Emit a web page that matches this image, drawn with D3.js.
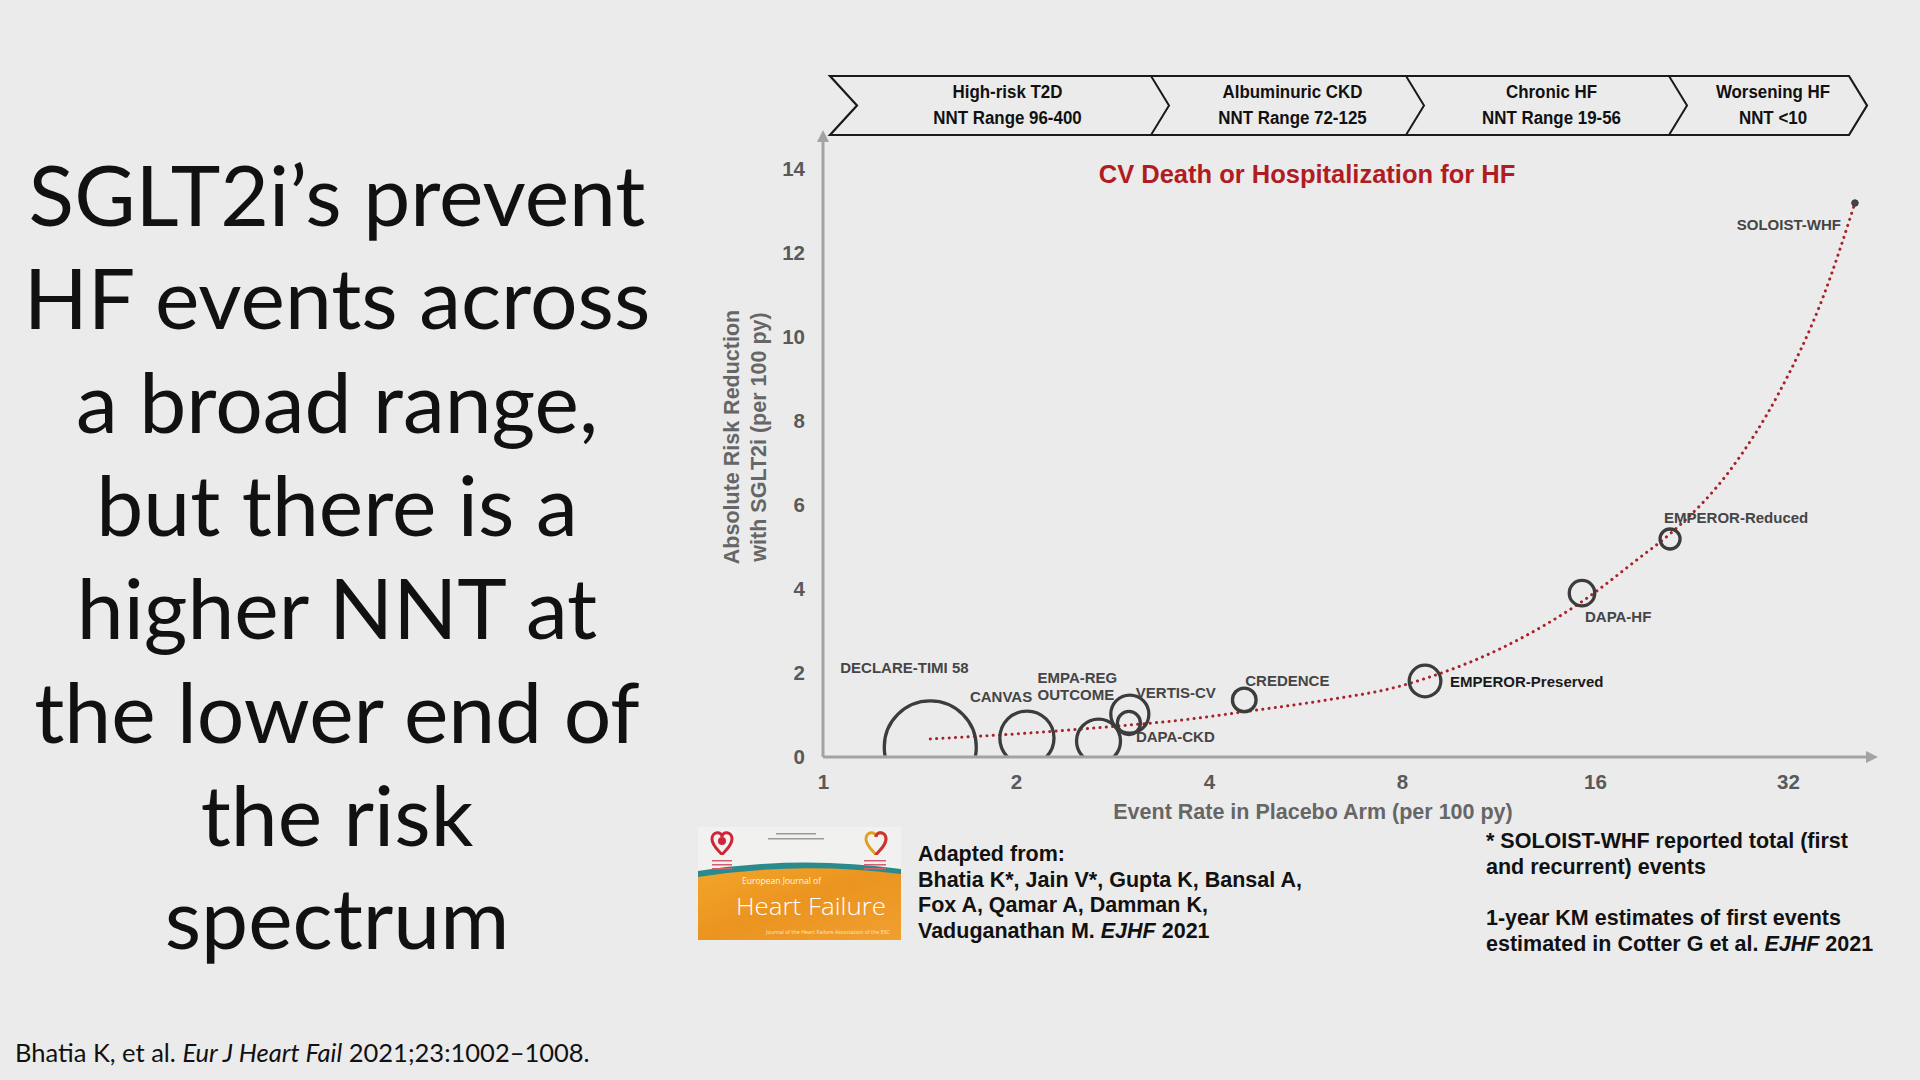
<!DOCTYPE html>
<html><head><meta charset="utf-8">
<script src="https://cdn.jsdelivr.net/npm/d3@7"></script>
<style>
html,body{margin:0;padding:0;background:#ebebeb;}
svg{display:block;}
</style></head>
<body>
<svg id="chart" width="1920" height="1080"></svg>
<script>
// ---------------- DATA ----------------
const trials     = ["DECLARE-TIMI 58","CANVAS","EMPA-REG OUTCOME","VERTIS-CV","DAPA-CKD","CREDENCE","EMPEROR-Preserved","DAPA-HF","EMPEROR-Reduced","SOLOIST-WHF"];
const eventRate  = [1.47, 2.08, 2.69, 3.01, 3.00, 4.54, 8.69, 15.27, 20.95, 40.7];
const arrValues  = [0.24, 0.45, 0.38, 1.02, 0.81, 1.36, 1.81, 3.90, 5.19, 13.19];
const trialSize  = [17160, 10100, 8200, 7100, 4300, 4400, 5900, 4750, 3730, 1222];
const fitX = [1.47, 2, 3, 3.63, 4.55, 5.94, 8, 8.7, 11.5, 15.3, 18.8, 20.9, 26.2, 30.9, 36.4, 40.7];
const fitY = [0.43, 0.55, 0.76, 0.88, 1.08, 1.33, 1.70, 1.87, 2.61, 3.71, 4.75, 5.30, 6.90, 8.64, 11.0, 13.19];
const xTicks = [1, 2, 4, 8, 16, 32];
const yTicks = [0, 2, 4, 6, 8, 10, 12, 14];
const phaseNames = ["High-risk T2D", "Albuminuric CKD", "Chronic HF", "Worsening HF"];
const phaseNNT   = ["NNT Range 96-400", "NNT Range 72-125", "NNT Range 19-56", "NNT <10"];
const titleText  = "CV Death or Hospitalization for HF";
const yLabel     = ["Absolute Risk Reduction", "with SGLT2i (per 100 py)"];
const xLabel     = "Event Rate in Placebo Arm (per 100 py)";
const headline   = ["SGLT2i\u2019s prevent", "HF events across", "a broad range,", "but there is a", "higher NNT at", "the lower end of", "the risk", "spectrum"];

// ---------------- LAYOUT ----------------
const labelLayout = {
  "DECLARE-TIMI 58":   {dx:-90, dy:-74, anchor:"start"},
  "CANVAS":            {dx:-57, dy:-36, anchor:"start"},
  "EMPA-REG OUTCOME":  {dx:-61, dy:-58, anchor:"start", lines:["EMPA-REG","OUTCOME"]},
  "VERTIS-CV":         {dx:6,   dy:-16, anchor:"start"},
  "DAPA-CKD":          {dx:7,   dy:19,  anchor:"start"},
  "CREDENCE":          {dx:1,   dy:-14, anchor:"start"},
  "EMPEROR-Preserved": {dx:25,  dy:6,   anchor:"start", dark:true},
  "DAPA-HF":           {dx:3,   dy:29,  anchor:"start"},
  "EMPEROR-Reduced":   {dx:-6,  dy:-16, anchor:"start"},
  "SOLOIST-WHF":       {dx:-14, dy:27,  anchor:"end"}
};
const chevronEdges = [830, 1151, 1406, 1669, 1849];
const chevronDepth = 18, chevTop = 76, chevBot = 135;

const svg = d3.select("#chart");
svg.append("rect").attr("width",1920).attr("height",1080).attr("fill","#ebebeb");

const x = d3.scaleLog().base(2).domain([1, 32]).range([823, 1788]);
const y = d3.scaleLinear().domain([0, 14]).range([757, 169]);
const r = d3.scaleLinear().domain([0, 17160]).range([0, 46]);

const AX = "#a3a3a3";
const sans = "'Liberation Sans', Arial, sans-serif";

// ---------------- HEADLINE ----------------
svg.append("g").selectAll("text").data(headline).join("text")
  .attr("x", 337).attr("y", (d,i) => 226 + i*103.3)
  .attr("text-anchor","middle")
  .attr("font-family","Lato, 'Open Sans', sans-serif")
  .attr("font-size", 84).attr("fill","#111")
  .text(d => d);

// ---------------- CHEVRONS ----------------
const chev = svg.append("g");
let pts = [];
pts.push([chevronEdges[0], chevTop]);
pts.push([chevronEdges[4], chevTop]);
pts.push([chevronEdges[4] + chevronDepth, (chevTop+chevBot)/2]);
pts.push([chevronEdges[4], chevBot]);
pts.push([chevronEdges[0], chevBot]);
pts.push([chevronEdges[0] + chevronDepth + 9, (chevTop+chevBot)/2]);
chev.append("path").attr("d", d3.line()(pts) + "Z")
  .attr("fill","#ebebeb").attr("stroke","#1a1a1a").attr("stroke-width",2.2).attr("stroke-linejoin","miter");
for (let i = 1; i < 4; i++) {
  chev.append("path")
    .attr("d", d3.line()([[chevronEdges[i], chevTop],[chevronEdges[i]+chevronDepth,(chevTop+chevBot)/2],[chevronEdges[i], chevBot]]))
    .attr("fill","none").attr("stroke","#1a1a1a").attr("stroke-width",2);
}
phaseNames.forEach((p,i) => {
  const cx = (chevronEdges[i] + chevronDepth + chevronEdges[i+1] + chevronDepth)/2 - 4 + (i === 0 ? 3 : 0);
  [p, phaseNNT[i]].forEach((t,k) => {
    chev.append("text").attr("transform",`translate(${cx},${98 + k*26}) scale(0.89,1)`)
      .attr("text-anchor","middle")
      .attr("font-family",sans).attr("font-weight","bold")
      .attr("font-size",19).attr("fill","#111").text(t);
  });
});

// ---------------- AXES ----------------
const axes = svg.append("g");
axes.append("line").attr("x1",823).attr("x2",823).attr("y1",757).attr("y2",140)
  .attr("stroke",AX).attr("stroke-width",3);
axes.append("path").attr("d","M817,142 L823,130 L829,142 Z").attr("fill",AX);
axes.append("line").attr("x1",823).attr("x2",1868).attr("y1",757).attr("y2",757)
  .attr("stroke",AX).attr("stroke-width",3);
axes.append("path").attr("d","M1866,751 L1878,757 L1866,763 Z").attr("fill",AX);

const yAxis = d3.axisLeft(y).tickValues(yTicks).tickSize(0).tickPadding(18);
const gy = svg.append("g").attr("transform","translate(823,0)").call(yAxis);
gy.select(".domain").remove();
gy.selectAll("text").attr("font-family",sans).attr("font-weight","bold").attr("font-size",20.5).attr("fill","#595959");

const xAxis = d3.axisBottom(x).tickValues(xTicks).tickFormat(d3.format("d")).tickSize(0).tickPadding(17);
const gx = svg.append("g").attr("transform","translate(0,757)").call(xAxis);
gx.select(".domain").remove();
gx.selectAll("text").attr("font-family",sans).attr("font-weight","bold").attr("font-size",20.5).attr("fill","#595959");

svg.append("text").attr("x",1313).attr("y",819).attr("text-anchor","middle")
  .attr("font-family",sans).attr("font-weight","bold").attr("font-size",21.5).attr("fill","#666").text(xLabel);
yLabel.forEach((t,i) => {
  svg.append("text").attr("transform",`translate(${739 + i*27},437) rotate(-90)`)
    .attr("text-anchor","middle").attr("font-family",sans).attr("font-weight","bold")
    .attr("font-size",21.5).attr("fill","#666").text(t);
});

svg.append("text").attr("x",1307).attr("y",183).attr("text-anchor","middle")
  .attr("font-family",sans).attr("font-weight","bold").attr("font-size",25.5).attr("fill","#b01c22").text(titleText);

// ---------------- MARKS ----------------
svg.append("clipPath").attr("id","plotclip").append("rect")
  .attr("x",823).attr("y",130).attr("width",1100).attr("height",757-130-1.5);

const data = trials.map((t,i) => ({name:t, x:eventRate[i], y:arrValues[i], n:trialSize[i]}));

const fit = fitX.map((v,i) => [x(v), y(fitY[i])]);
svg.append("path").attr("d", d3.line().curve(d3.curveMonotoneX)(fit))
  .attr("fill","none").attr("stroke","#a8222a").attr("stroke-width",3)
  .attr("stroke-dasharray","0.1 6.2").attr("stroke-linecap","round");

const marks = svg.append("g").attr("clip-path","url(#plotclip)");
marks.selectAll("circle").data(data).join("circle")
  .attr("cx", d => x(d.x)).attr("cy", d => y(d.y)).attr("r", d => r(d.n))
  .attr("fill", d => r(d.n) < 5 ? "#444" : "none")
  .attr("stroke","#3c3c3c").attr("stroke-width", d => r(d.n) < 5 ? 1 : 3.3);

const labs = svg.append("g");
data.forEach(d => {
  const L = labelLayout[d.name];
  const lines = L.lines || [d.name];
  lines.forEach((ln,j) => {
    labs.append("text").attr("x", x(d.x) + L.dx).attr("y", y(d.y) + L.dy + j*17)
      .attr("text-anchor", L.anchor).attr("font-family",sans).attr("font-weight","bold")
      .attr("font-size",15).attr("fill", L.dark ? "#1a1a1a" : "#454545").text(ln);
  });
});

// ---------------- COVER ----------------
const cov = svg.append("g").attr("transform","translate(698,827)");
const gradDefs = svg.append("defs");
const lg = gradDefs.append("linearGradient").attr("id","orng").attr("x1","0").attr("y1","0").attr("x2","1").attr("y2","1");
lg.append("stop").attr("offset","0").attr("stop-color","#f2a62a");
lg.append("stop").attr("offset","0.5").attr("stop-color","#eb9420");
lg.append("stop").attr("offset","1").attr("stop-color","#f0a030");
cov.append("rect").attr("width",203).attr("height",113).attr("fill","#f1f1ef");
cov.append("path").attr("d","M0,46 Q101,30 203,44 L203,113 L0,113 Z").attr("fill","url(#orng)");
cov.append("path").attr("d","M0,44 Q101,28 203,42 L203,47 Q101,34 0,50 Z").attr("fill","#2a8a8c");
cov.append("path").attr("d","M14,12 C14,4 24,4 24,10 C24,4 34,4 34,12 C34,20 24,26 24,28 C24,26 14,20 14,12 Z")
  .attr("fill","none").attr("stroke","#d0243a").attr("stroke-width",3);
cov.append("circle").attr("cx",24).attr("cy",14).attr("r",4).attr("fill","#d0243a");
cov.append("path").attr("d","M168,12 C168,4 178,4 178,10 C178,4 188,4 188,12 C188,20 178,26 178,28 C178,26 168,20 168,12 Z")
  .attr("fill","none").attr("stroke","#e0a020").attr("stroke-width",3);
cov.append("path").attr("d","M178,10 C178,4 188,4 188,12 C188,20 178,26 178,28").attr("fill","none").attr("stroke","#d0303a").attr("stroke-width",3);
[[14,33],[14,37],[14,41]].forEach(p => cov.append("rect").attr("x",p[0]).attr("y",p[1]).attr("width",20).attr("height",1.5).attr("fill","#d06070"));
[[166,33],[166,37],[166,41]].forEach(p => cov.append("rect").attr("x",p[0]).attr("y",p[1]).attr("width",22).attr("height",1.5).attr("fill","#d06070"));
[[78,6,40],[70,11,56]].forEach(p => cov.append("rect").attr("x",p[0]).attr("y",p[1]).attr("width",p[2]).attr("height",1.5).attr("fill","#9a9a9a"));
cov.append("text").attr("x",44).attr("y",57).attr("font-family","'Open Sans',sans-serif").attr("font-size",8.5)
  .attr("fill","#fff4e0").text("European Journal of");
cov.append("text").attr("x",38).attr("y",88).attr("font-family","'Open Sans',sans-serif").attr("font-weight",300)
  .attr("font-size",24).attr("fill","#ffffff").attr("textLength",150).attr("lengthAdjust","spacingAndGlyphs").text("Heart Failure");
cov.append("text").attr("x",68).attr("y",107).attr("font-family","'Open Sans',sans-serif").attr("font-size",5.5)
  .attr("fill","#fde8c0").attr("textLength",124).attr("lengthAdjust","spacingAndGlyphs")
  .text("Journal of the Heart Failure Association of the ESC");

// ---------------- NOTES ----------------
const adapted = [
  [{t:"Adapted from:"}],
  [{t:"Bhatia K*, Jain V*, Gupta K, Bansal A,"}],
  [{t:"Fox A, Qamar A, Damman K,"}],
  [{t:"Vaduganathan M. "},{t:"EJHF",i:true},{t:" 2021"}]
];
adapted.forEach((ln,k) => {
  const t = svg.append("text").attr("x",918).attr("y",861 + k*25.7)
    .attr("font-family",sans).attr("font-weight","bold").attr("font-size",21.5).attr("fill","#111");
  ln.forEach(s => t.append("tspan").attr("font-style", s.i ? "italic" : "normal").text(s.t));
});
const notes = [
  [{t:"* SOLOIST-WHF reported total (first"}],
  [{t:"and recurrent) events"}],
  [],
  [{t:"1-year KM estimates of first events"}],
  [{t:"estimated in Cotter G et al. "},{t:"EJHF",i:true},{t:" 2021"}]
];
notes.forEach((ln,k) => {
  if (!ln.length) return;
  const t = svg.append("text").attr("x",1486).attr("y",848 + k*25.7)
    .attr("font-family",sans).attr("font-weight","bold").attr("font-size",21.5).attr("fill","#111");
  ln.forEach(s => t.append("tspan").attr("font-style", s.i ? "italic" : "normal").text(s.t));
});

const foot = svg.append("text").attr("x",15).attr("y",1062)
  .attr("font-family","Lato, 'Open Sans', sans-serif").attr("font-size",25.5).attr("fill","#111");
foot.append("tspan").text("Bhatia K, et al. ");
foot.append("tspan").attr("font-style","italic").text("Eur J Heart Fail");
foot.append("tspan").text(" 2021;23:1002\u20131008.");
</script>
</body></html>
